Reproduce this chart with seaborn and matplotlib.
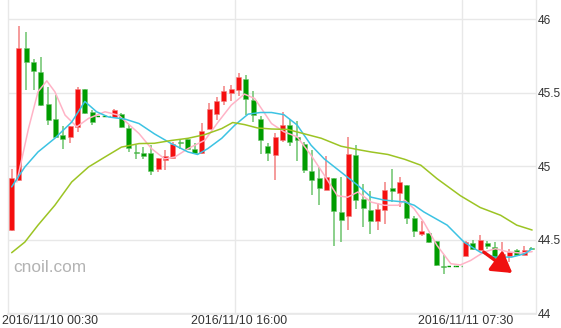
import matplotlib
matplotlib.use("Agg")
import matplotlib.pyplot as plt
import matplotlib.transforms as mtransforms
import seaborn as sns
import numpy as np

# ---- data ----
opens = [44.565, 44.905, 45.80, 45.71, 45.64, 45.42, 45.32, 45.21, 45.197, 45.268,
         45.524, 45.37, 45.342, 45.342, 45.333, 45.354, 45.26, 45.10, 45.093, 45.088,
         44.98, 45.043, 45.057, 45.162, 45.184, 45.12, 45.093, 45.256, 45.356, 45.442,
         45.497, 45.519, 45.592, 45.45, 45.32, 45.14, 45.075, 45.175, 45.28, 45.197,
         45.152, 44.97, 44.92, 44.84, 44.92, 44.69, 44.66, 45.075, 44.78, 44.70,
         44.63, 44.703, 44.85, 44.82, 44.87, 44.65, 44.54, 44.55, 44.49, 44.322,
         44.32, 44.32, 44.39, 44.48, 44.43, 44.48, 44.454, 44.377, 44.39, 44.43,
         44.40, 44.445]
highs = [44.98, 45.95, 45.91, 45.73, 45.74, 45.537, 45.487, 45.27, 45.27, 45.54,
         45.524, 45.38, 45.342, 45.342, 45.39, 45.36, 45.28, 45.147, 45.13, 45.143,
         45.057, 45.107, 45.165, 45.18, 45.19, 45.16, 45.297, 45.429, 45.47, 45.546,
         45.551, 45.633, 45.62, 45.51, 45.34, 45.16, 45.224, 45.37, 45.32, 45.306,
         45.165, 45.107, 44.997, 45.07, 44.92, 44.93, 45.197, 45.143, 44.88, 44.83,
         44.75, 44.89, 44.98, 44.93, 44.87, 44.66, 44.626, 44.55, 44.49, 44.40,
         44.32, 44.32, 44.49, 44.50, 44.53, 44.49, 44.485, 44.485, 44.44, 44.44,
         44.46, 44.45]
lows = [44.56, 44.90, 45.52, 45.52, 45.41, 45.28, 45.197, 45.12, 45.16, 45.233,
        45.354, 45.28, 45.342, 45.342, 45.33, 45.26, 45.097, 45.05, 45.05, 44.94,
        44.96, 44.977, 45.057, 45.115, 45.107, 45.08, 45.08, 45.256, 45.315, 45.415,
        45.446, 45.478, 45.35, 45.30, 45.084, 45.034, 44.907, 45.166, 45.14, 45.039,
        44.957, 44.807, 44.74, 44.84, 44.46, 44.485, 44.57, 44.707, 44.59, 44.54,
        44.57, 44.61, 44.76, 44.72, 44.61, 44.52, 44.526, 44.48, 44.32, 44.27,
        44.32, 44.32, 44.39, 44.43, 44.43, 44.44, 44.374, 44.377, 44.35, 44.39,
        44.40, 44.44]
closes = [44.923, 45.80, 45.71, 45.646, 45.415, 45.317, 45.197, 45.186, 45.27, 45.524,
          45.365, 45.30, 45.342, 45.342, 45.379, 45.265, 45.125, 45.09, 45.07, 44.968,
          45.057, 45.07, 45.154, 45.158, 45.116, 45.09, 45.24, 45.388, 45.442, 45.51,
          45.524, 45.605, 45.456, 45.347, 45.175, 45.088, 45.197, 45.283, 45.166, 45.175,
          44.975, 44.907, 44.853, 44.93, 44.694, 44.635, 45.084, 44.77, 44.717, 44.63,
          44.712, 44.84, 44.83, 44.89, 44.649, 44.562, 44.56, 44.485, 44.327, 44.318,
          44.32, 44.32, 44.485, 44.44, 44.50, 44.458, 44.377, 44.404, 44.417, 44.40,
          44.43, 44.44]

# moving-average lines, read at positions along the candle index axis
pink_x = [0.7, 2.3, 3.6, 4.8, 5.9, 7.3, 8.9, 10.5, 12.75, 14.6, 17.4, 19.1, 20.9, 22.3,
          24.1, 26.4, 28.2, 30.0, 31.8, 33.2, 35.5, 37.2, 39.0, 40.9, 42.7, 44.5, 45.9,
          47.3, 49.1, 50.9, 52.8, 53.7, 55.0, 56.3, 58.1, 60.0, 61.3, 62.7, 64.5, 66.1,
          67.7, 69.6, 71.1]
pink_y = [44.893, 45.256, 45.506, 45.58, 45.506, 45.347, 45.268, 45.325, 45.37, 45.347,
          45.222, 45.12, 45.05, 45.063, 45.12, 45.177, 45.30, 45.415, 45.49, 45.46,
          45.29, 45.234, 45.20, 45.075, 44.94, 44.80, 44.79, 44.825, 44.757, 44.735,
          44.735, 44.77, 44.71, 44.62, 44.463, 44.338, 44.33, 44.36, 44.417, 44.44,
          44.42, 44.41, 44.42]
cyan_x = [0.0, 1.8, 3.6, 5.9, 8.2, 10.0, 11.6, 13.2, 15.5, 17.4, 19.5, 21.8, 24.1, 25.4,
          26.8, 28.7, 30.5, 32.3, 34.0, 35.5, 37.2, 39.0, 40.9, 42.7, 45.0, 47.3, 49.1,
          50.9, 53.7, 55.0, 56.3, 59.5, 61.8, 64.0, 66.0, 68.3, 70.1, 71.1]
cyan_y = [44.86, 44.995, 45.097, 45.19, 45.30, 45.44, 45.37, 45.335, 45.32, 45.29,
          45.22, 45.154, 45.097, 45.08, 45.12, 45.19, 45.28, 45.354, 45.365, 45.365,
          45.35, 45.28, 45.143, 45.05, 44.96, 44.87, 44.79, 44.77, 44.757, 44.735,
          44.69, 44.60, 44.485, 44.417, 44.383, 44.383, 44.406, 44.44]
olive_x = [0.0, 1.8, 3.6, 5.9, 8.2, 10.5, 12.75, 15.0, 17.4, 19.5, 21.8, 24.1, 26.4,
           28.7, 30.2, 31.8, 33.6, 35.5, 37.7, 40.0, 42.3, 45.0, 47.3, 49.1, 51.4, 53.7,
           55.9, 58.1, 61.3, 64.0, 66.8, 69.0, 71.1]
olive_y = [44.413, 44.485, 44.60, 44.735, 44.893, 44.995, 45.063, 45.13, 45.154, 45.156,
           45.175, 45.19, 45.215, 45.256, 45.297, 45.283, 45.26, 45.253, 45.25, 45.22,
           45.19, 45.136, 45.113, 45.097, 45.08, 45.047, 45.007, 44.916, 44.80, 44.72,
           44.667, 44.60, 44.567]

x_tick_pos = [0, 31, 62]
x_tick_labels = ["2016/11/10 00:30", "2016/11/10 16:00", "2016/11/11 07:30"]
y_ticks = [44, 44.5, 45, 45.5, 46]
y_tick_labels = ["44", "44.5", "45", "45.5", "46"]
arrow_from = (64.5, 44.417)
arrow_to = (68.4, 44.275)

# ---- styling ----
sns.set_theme(style="white")
plt.rcParams["font.family"] = ["Liberation Sans", "DejaVu Sans"]

UP_BODY, UP_WICK = "#f50f0f", "#f28080"
DN_BODY, DN_WICK = "#009c00", "#6cc46c"
GRID = "#e8e8e8"

fig = plt.figure(figsize=(5.61, 3.28), dpi=100)
ax = fig.add_axes([8 / 561, (328 - 313.5) / 328, 528 / 561, 313.5 / 328])

n = len(opens)

# grid lines
for yv in y_ticks:
    ax.axhline(yv, color=GRID, lw=1, zorder=0)
for xv in [30.5, 61.5]:
    ax.axvline(xv, color=GRID, lw=1, zorder=0)

body_w = 0.68
for i in range(n):
    o, h, l, c = opens[i], highs[i], lows[i], closes[i]
    if o == c == h == l:
        ax.hlines(o, i - 0.5, i + 0.5, color=DN_BODY, lw=1, linestyles=(0, (2.5, 2)), zorder=3)
        continue
    up = c > o
    body = UP_BODY if up else DN_BODY
    wick = UP_WICK if up else DN_WICK
    ax.vlines(i, l, h, color=wick, lw=1.1, zorder=2)
    bottom = min(o, c)
    height = max(abs(c - o), 0.007)
    ax.bar(i, height, bottom=bottom, width=body_w, color=body,
           edgecolor=wick, linewidth=0.4, zorder=3)

# moving averages
sns.lineplot(x=pink_x, y=pink_y, ax=ax, color="#ffb3c6", lw=1.1, sort=False,
             estimator=None, zorder=4)
sns.lineplot(x=cyan_x, y=cyan_y, ax=ax, color="#3cc3e3", lw=1.1, sort=False,
             estimator=None, zorder=4)
sns.lineplot(x=olive_x, y=olive_y, ax=ax, color="#9cc424", lw=1.1, sort=False,
             estimator=None, zorder=4)

# arrow
ax.annotate("", xy=arrow_to, xytext=arrow_from,
            arrowprops=dict(arrowstyle="-|>,head_length=1.0,head_width=0.6",
                            color="#f01010", lw=2.4, shrinkA=0, shrinkB=0,
                            mutation_scale=12),
            zorder=5)

# watermark
ax.text(0.0095, 0.148, "cnoil.com", transform=ax.transAxes, fontsize=12.4,
        color="#b3b3b3", ha="left", va="center")

ax.set_xlim(-0.5, -0.5 + 528 / 7.32)
ax.set_ylim(44, 46 + 19 / 147.25)

ax.yaxis.tick_right()
ax.set_yticks(y_ticks)
ax.set_yticklabels(y_tick_labels)
ax.set_xticks(x_tick_pos)
ax.set_xticklabels(x_tick_labels)
ax.tick_params(axis="y", length=0, pad=1.5, labelsize=8.6, labelcolor="#333333")
ax.tick_params(axis="x", length=0, pad=1, labelsize=8.9, labelcolor="#333333")
lbl0 = ax.get_xticklabels()[0]
lbl0.set_horizontalalignment("left")
lbl0.set_transform(lbl0.get_transform() +
                   mtransforms.ScaledTranslation(-9.7 / 100, 0, fig.dpi_scale_trans))

ax.set_xlabel("")
ax.set_ylabel("")
for s in ["left", "right"]:
    ax.spines[s].set_color(GRID)
    ax.spines[s].set_linewidth(1)
ax.spines["top"].set_visible(False)
ax.spines["bottom"].set_color(GRID)
ax.grid(False)

fig.savefig("out.png", dpi=100)
